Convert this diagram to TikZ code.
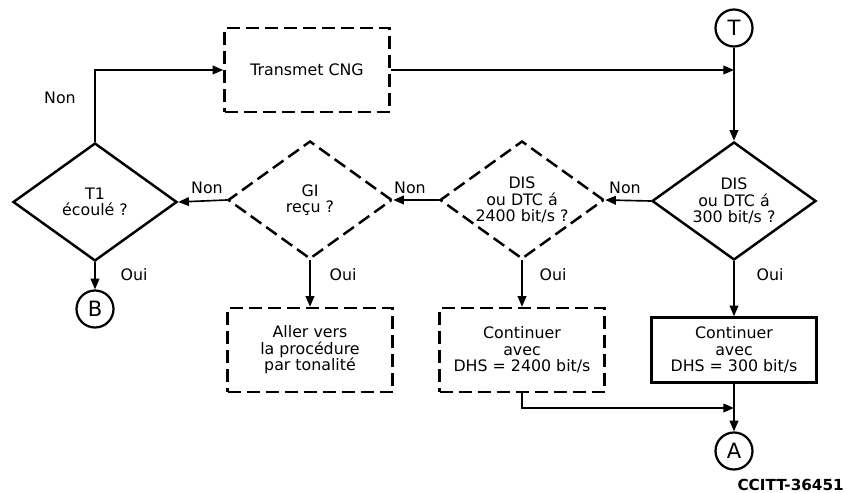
\documentclass[tikz,border=0pt]{standalone}
\usepackage{fontspec}
\setmainfont{DejaVu Sans}
\usetikzlibrary{arrows.meta, shapes.geometric}

\begin{document}
\begin{tikzpicture}[x=0.3mm, y=-0.3mm,
  every node/.style={font=\fontsize{13.5}{14}\selectfont, align=center, inner sep=0pt},
  proc/.style={draw, rectangle, line width=2.1pt, minimum width=49.5mm, minimum height=25.2mm},
  dproc/.style={proc, dash pattern=on 3.9mm off 1.8mm},
  test/.style={draw, diamond, aspect=1.39, line width=2.1pt, minimum width=49.2mm, minimum height=35.4mm},
  dtest/.style={test, dash pattern=on 3.9mm off 1.8mm},
  conn/.style={draw, circle, line width=1.9pt, minimum size=11.1mm, font=\fontsize{18}{18}\selectfont},
  arr/.style={line width=1.4pt, -{Triangle[length=3.2mm,width=2.6mm]}}]
  \useasboundingbox (0,0) rectangle (845,493);

  % Top row
  \node[dproc] (cng) at (307,70) {Transmet CNG};
  \node[conn] (T) at (734,28) {T};
  \coordinate (join) at (734,70);

  % Decisions
  \node[test]  (t1)    at (95,202)  {T1\\écoulé ?};
  \node[dtest] (gi)    at (310,200) {GI\\reçu ?};
  \node[dtest] (d2400) at (522,200) {DIS\\ou DTC á\\2400 bit/s ?};
  \node[test]  (d300)  at (734,201) {DIS\\ou DTC á\\300 bit/s ?};

  % Actions
  \node[dproc] (tone) at (310,350) {Aller vers\\la procédure\\par tonalité};
  \node[dproc] (c2400) at (522,350) {Continuer\\avec\\DHS = 2400 bit/s};
  \node[proc, minimum height=19.5mm] (c300) at (734,350) {Continuer\\avec\\DHS = 300 bit/s};

  % Exits
  \node[conn] (B) at (95,309) {B};
  \node[conn] (A) at (734,451) {A};
  \coordinate (merge) at (734,408);

  % Edges
  \draw[arr] (t1.north) |- (cng.west);
  \draw[arr] (cng.east) -- (join);
  \draw[arr] (T) -- (d300.north);
  \draw[arr] (d300.west) -- (d2400.east);
  \draw[arr] (d2400.west) -- (gi.east);
  \draw[arr] (gi.west) -- (t1.east);
  \draw[arr] (t1.south) -- (B);
  \draw[arr] (gi.south) -- (tone.north);
  \draw[arr] (d2400.south) -- (c2400.north);
  \draw[arr] (d300.south) -- (c300.north);
  \draw[arr] (c2400.south) |- (merge);
  \draw[arr] (c300.south) -- (A);

  % Labels
  \node at (60,98) {Non};
  \node at (207,188) {Non};
  \node at (410,188) {Non};
  \node at (625,188) {Non};
  \node at (134,275) {Oui};
  \node at (343,275) {Oui};
  \node at (553,275) {Oui};
  \node at (770,275) {Oui};
  \node[anchor=east, font=\fontsize{13}{14}\selectfont\bfseries] (ref) at (844,485) {CCITT-36451};
\end{tikzpicture}
\end{document}
